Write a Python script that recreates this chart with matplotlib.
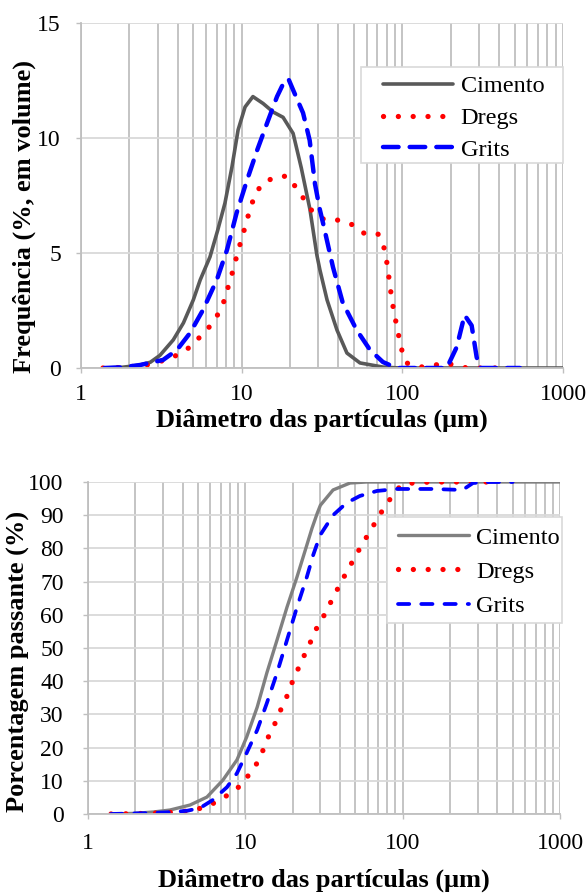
import numpy as np
import matplotlib.pyplot as plt
from matplotlib.patches import Rectangle
from matplotlib.ticker import LogLocator, FixedLocator, FuncFormatter

plt.rcParams['font.family'] = ['Liberation Serif', 'DejaVu Serif']

# --- frequency distribution (top), diameter in um / % volume ---
cim_d = [1.4, 1.8, 2.3, 2.7, 3.1, 3.75, 4.34, 5.0, 5.52, 6.35, 7.1, 7.87, 8.7, 9.5, 10.5,
         11.75, 13.6, 15.7, 18.1, 20.9, 23.5, 26.6, 29.4, 30.7, 34.0, 39.2, 45.2, 54.5,
         75.7, 96.6, 1000.0]
cim_f = [0.0, 0.03, 0.12, 0.25, 0.55, 1.22, 1.96, 2.96, 3.83, 4.83, 6.0, 7.17, 8.74, 10.35,
         11.35, 11.8, 11.5, 11.13, 10.9, 10.2, 8.7, 6.9, 4.9, 4.26, 2.96, 1.65, 0.65, 0.22,
         0.04, 0.0, 0.0]

dre_d = [1.37, 1.75, 2.2, 2.69, 3.33, 4.0, 4.77, 5.57, 6.45, 7.2, 7.87, 8.33, 8.85, 9.35,
         9.9, 10.5, 11.1, 11.9, 13.2, 15.6, 19.1, 21.7, 24.4, 27.7, 33.0, 40.3, 49.3, 58.5,
         70.5, 76.7, 80.0, 82.4, 84.8, 87.4, 91.0, 95.0, 99.3, 106.0, 130.0, 160.0, 189.0,
         228.0, 260.0, 450.0]
dre_f = [0.0, 0.02, 0.08, 0.15, 0.35, 0.57, 0.91, 1.39, 1.87, 2.39, 3.0, 3.65, 4.26, 4.91,
         5.52, 6.13, 6.74, 7.39, 7.96, 8.26, 8.35, 7.87, 7.35, 6.78, 6.43, 6.43, 6.22, 5.83,
         5.83, 5.26, 4.61, 3.96, 3.3, 2.7, 2.04, 1.39, 0.78, 0.22, 0.04, 0.13, 0.22,
         0.04, 0.0, 0.0]

gri_d = [1.4, 1.8, 2.33, 3.24, 3.95, 4.77, 5.74, 7.0, 8.1, 9.3, 10.8, 12.5, 14.4, 16.6,
         18.6, 19.6, 20.9, 24.1, 26.5, 28.6, 30.7, 32.1, 37.0, 42.6, 52.0, 63.0, 75.7, 92.0,
         189.0, 218.0, 244.0, 270.0, 290.0, 303.0, 540.0]
gri_f = [0.0, 0.03, 0.13, 0.35, 0.78, 1.52, 2.52, 3.83, 5.13, 6.74, 8.17, 9.48, 10.65, 11.8,
         12.52, 12.55, 12.09, 11.09, 9.9, 8.0, 6.87, 6.3, 4.39, 2.83, 1.65, 0.78, 0.26, 0.0,
         0.0, 0.91, 2.3, 1.85, 0.48, 0.0, 0.0]

# --- cumulative passing (bottom), % ---
cim_cd = [1.4, 2.0, 2.6, 3.32, 4.45, 5.7, 7.2, 8.85, 10.2, 11.9, 13.7, 15.9, 18.4, 21.3,
          24.6, 26.5, 28.6, 30.0, 36.1, 46.3, 59.0, 1000.0]
cim_c = [0.0, 0.2, 0.6, 1.2, 2.7, 5.1, 10.2, 16.3, 23.2, 32.2, 42.5, 52.4, 62.3, 71.4,
         81.0, 86.0, 90.5, 93.0, 97.6, 99.7, 100.0, 100.0]

dre_cd = [1.4, 2.0, 2.8, 3.85, 4.65, 5.6, 6.7, 8.1, 9.4, 10.6, 11.9, 12.9, 13.9, 15.2, 16.4,
          17.9, 19.2, 20.6, 22.6, 24.3, 26.5, 28.6, 32.0, 35.0, 38.3, 42.0, 46.3, 50.5, 56.0,
          62.0, 68.6, 76.0, 86.0, 97.8, 116.0, 150.0, 400.0]
dre_c = [0.0, 0.1, 0.3, 0.6, 1.2, 2.1, 3.9, 6.3, 8.7, 12.0, 15.4, 19.0, 22.9, 26.5, 30.4,
         34.0, 37.9, 41.6, 45.5, 49.0, 52.7, 56.3, 60.2, 63.9, 67.5, 71.1, 74.7, 78.0, 81.6,
         85.2, 88.6, 92.2, 95.8, 99.1, 99.7, 100.0, 100.0]

gri_cd = [1.4, 2.5, 3.5, 4.3, 5.15, 6.2, 7.65, 8.85, 10.2, 11.9, 13.7, 15.9, 18.4, 21.3,
          24.6, 27.0, 29.9, 36.1, 44.0, 53.5, 68.6, 91.7, 155.0, 240.0, 280.0, 360.0, 500.0]
gri_c = [0.0, 0.3, 0.6, 1.0, 1.8, 4.2, 8.1, 12.3, 18.4, 25.3, 33.4, 42.5, 52.4, 62.3,
         71.4, 78.0, 84.0, 90.0, 93.7, 95.8, 97.3, 97.9, 97.9, 97.6, 99.7, 100.0, 100.0]

labels = ['Cimento', 'Dregs', 'Grits']
FS_TICK = 17
FS_LABEL = 19
FS_LEG = 17.5

fig = plt.figure(figsize=(5.87, 8.93), dpi=100)
ax1 = fig.add_axes([81 / 587, 1 - 368 / 893, 482 / 587, 345 / 893])
ax2 = fig.add_axes([88 / 587, 1 - 814 / 893, 472 / 587, 332 / 893])


def style_axis(ax, yticks, ypad, xpad):
    ax.set_xscale('log')
    ax.set_xlim(1, 1000)
    ax.set_ylim(yticks[0], yticks[-1])
    ax.xaxis.set_major_locator(FixedLocator([1, 10, 100, 1000]))
    ax.xaxis.set_major_formatter(FuncFormatter(lambda v, p: '%d' % round(v)))
    ax.xaxis.set_minor_locator(LogLocator(base=10, subs=np.arange(2, 10)))
    ax.xaxis.set_minor_formatter(FuncFormatter(lambda v, p: ''))
    ax.set_yticks(yticks)
    ax.grid(True, which='both', axis='x', color='#bfbfbf', lw=1.3)
    ax.grid(True, which='major', axis='y', color='#d9d9d9', lw=1.3)
    ax.set_axisbelow(True)
    for s in ['top', 'right']:
        ax.spines[s].set_visible(False)
    for s in ['left', 'bottom']:
        ax.spines[s].set_color('#bfbfbf')
        ax.spines[s].set_linewidth(1.3)
    ax.tick_params(axis='both', which='major', labelsize=FS_TICK, color='#bfbfbf',
                   length=3.5, width=1.0)
    ax.tick_params(axis='y', pad=ypad)
    ax.tick_params(axis='x', pad=xpad)
    ax.tick_params(axis='x', which='minor', length=0)


def legend_box(ax, x0, y0, w, h, anchor, spacing):
    box = Rectangle((x0, y0), w, h, transform=ax.transAxes, facecolor='white',
                    edgecolor='#d9d9d9', lw=1.2, zorder=4, clip_on=False)
    ax.add_patch(box)
    leg = ax.legend(loc='upper left', bbox_to_anchor=anchor, borderaxespad=0, borderpad=0,
                    fontsize=FS_LEG, frameon=False, handlelength=2.9, handletextpad=0.3,
                    labelspacing=spacing)
    leg.set_zorder(5)
    return leg


# top chart
style_axis(ax1, [0, 5, 10, 15], ypad=11, xpad=8)
ax1.plot(cim_d, cim_f, color='#595959', lw=2.6, solid_capstyle='round',
         solid_joinstyle='round', label=labels[0])
ax1.plot(dre_d, dre_f, color='#ff0000', lw=3.8, linestyle=(0, (0.01, 2.8)),
         dash_capstyle='round', label=labels[1])
ax1.plot(gri_d, gri_f, color='#0000ff', lw=3.2, linestyle=(0, (3.5, 2.5)),
         dash_capstyle='round', label=labels[2])
ax1.set_xlabel('Diâmetro das partículas (μm)', fontsize=FS_LABEL, fontweight='bold')
ax1.xaxis.set_label_coords(0.5, -0.118)
ax1.set_ylabel('Frequência (%, em volume)', fontsize=FS_LABEL, fontweight='bold')
ax1.yaxis.set_label_coords(-0.093, 0.44)
legend_box(ax1, 0.581, 0.594, 0.419, 0.278, (0.626, 0.848), 0.40)

# bottom chart
style_axis(ax2, list(range(0, 101, 10)), ypad=14, xpad=10)
ax2.plot(cim_cd, cim_c, color='#808080', lw=2.4, solid_capstyle='round',
         solid_joinstyle='round', label=labels[0])
ax2.plot(dre_cd, dre_c, color='#ff0000', lw=3.8, linestyle=(0, (0.01, 2.8)),
         dash_capstyle='round', label=labels[1])
ax2.plot(gri_cd, gri_c, color='#0000ff', lw=2.7, linestyle=(0, (3.0, 3.2)),
         dash_capstyle='round', label=labels[2])
ax2.set_xlabel('Diâmetro das partículas (μm)', fontsize=FS_LABEL, fontweight='bold')
ax2.xaxis.set_label_coords(0.5, -0.163)
ax2.set_ylabel('Porcentagem passante (%)', fontsize=FS_LABEL, fontweight='bold')
ax2.yaxis.set_label_coords(-0.122, 0.461)
legend_box(ax2, 0.633, 0.575, 0.371, 0.32, (0.657, 0.865), 0.50)

fig.savefig('out.png', dpi=100)
